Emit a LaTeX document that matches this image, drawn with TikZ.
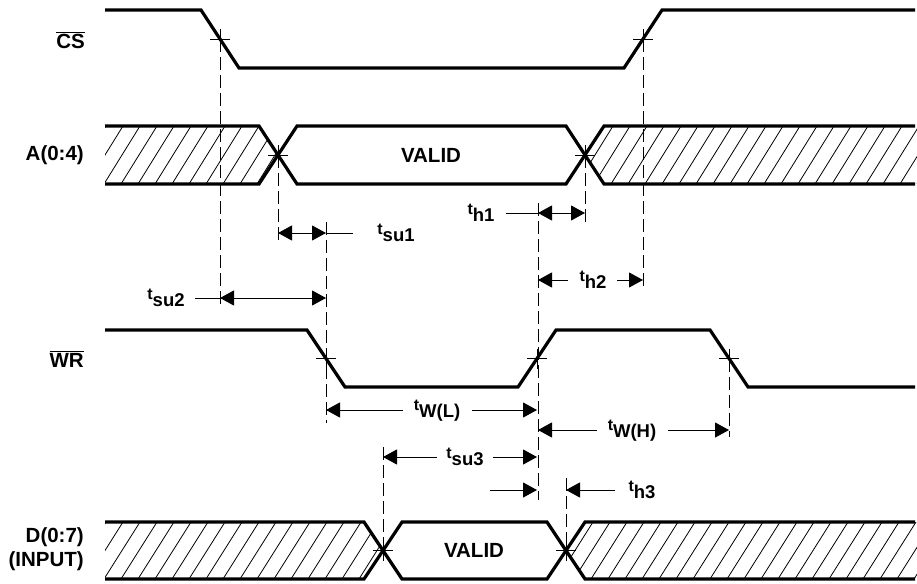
\documentclass[tikz,border=0pt]{standalone}
\usepackage{fontspec}
\setmainfont{Liberation Sans}
\usetikzlibrary{arrows.meta}
\newcommand\tlab[1]{{\fontsize{16}{15}\selectfont t}\raisebox{-7.5pt}{\fontsize{18.5}{18}\selectfont #1}}
\begin{document}
\begin{tikzpicture}[x=1pt,y=-1pt,
  sig/.style={line width=3.2pt, line join=miter},
  thinl/.style={line width=1pt},
  dashl/.style={line width=0.9pt, dash pattern=on 13pt off 5pt},
  hatchl/.style={line width=0.8pt},
  tick/.style={line width=0.9pt},
  dimr/.style={thinl, -{Triangle[length=14pt,width=15pt]}},
  diml/.style={thinl, {Triangle[length=14pt,width=15pt]}-},
  dimb/.style={thinl, {Triangle[length=14pt,width=15pt]}-{Triangle[length=14pt,width=15pt]}},
  lab/.style={font=\fontsize{20.5}{22}\selectfont\bfseries, inner sep=0pt},
  tl/.style={font=\bfseries, inner sep=0pt, anchor=base},
]
\useasboundingbox (0,0) rectangle (917,583);

% ---------- signal labels ----------
\node[lab, anchor=east] (lcs) at (85,40) {$\overline{\hbox{\fontsize{20.5}{22}\selectfont\bfseries CS}}$};
\node[lab, anchor=east] (la) at (84,155) {A(0:4)};
\node[lab, anchor=east] (lwr) at (84,359) {$\overline{\hbox{\fontsize{20.5}{22}\selectfont\bfseries WR}}$};
\node[lab, anchor=east] (ld) at (84,537) {D(0:7)};
\node[lab, anchor=east] (ldi) at (84,561) {(INPUT)};

% ---------- hatching ----------
\begin{scope}
  \clip (105,126) -- (259,126) -- (278,155) -- (259,184) -- (105,184) -- cycle;
  \foreach \i in {0,...,12} \draw[hatchl] ({70+\i*17},184) -- ++(36,-58);
\end{scope}
\begin{scope}
  \clip (917,126) -- (604,126) -- (585,155) -- (604,184) -- (917,184) -- cycle;
  \foreach \i in {0,...,22} \draw[hatchl] ({560+\i*17},184) -- ++(36,-58);
\end{scope}
\begin{scope}
  \clip (105,522) -- (364,522) -- (383,550.5) -- (364,579) -- (105,579) -- cycle;
  \foreach \i in {0,...,18} \draw[hatchl] ({70+\i*17},579) -- ++(36,-57);
\end{scope}
\begin{scope}
  \clip (917,522) -- (585,522) -- (566,550.5) -- (585,579) -- (917,579) -- cycle;
  \foreach \i in {0,...,23} \draw[hatchl] ({540+\i*17},579) -- ++(36,-57);
\end{scope}

% ---------- signals ----------
\draw[sig] (105,10) -- (201,10) -- (239,68) -- (624,68) -- (662,10) -- (915,10);
\draw[sig] (105,126) -- (259,126) -- (297,184) -- (566,184) -- (604,126) -- (915,126);
\draw[sig] (105,184) -- (259,184) -- (297,126) -- (566,126) -- (604,184) -- (915,184);
\draw[sig] (105,330) -- (307,330) -- (345,387) -- (518,387) -- (556,330) -- (710,330) -- (748,387) -- (915,387);
\draw[sig] (105,522) -- (364,522) -- (402,579) -- (547,579) -- (585,522) -- (915,522);
\draw[sig] (105,579) -- (364,579) -- (402,522) -- (547,522) -- (585,579) -- (915,579);

\node[lab] (va) at (431,155) {VALID};
\node[lab] (vd) at (474,550) {VALID};

% ---------- reference points ----------
\coordinate (csF) at (220,39);
\coordinate (csR) at (643,39);
\coordinate (aX1) at (278,155);
\coordinate (aX2) at (585,155);
\coordinate (wr1) at (326,358.5);
\coordinate (wr2) at (537,358.5);
\coordinate (wr3) at (729,358.5);
\coordinate (dX1) at (383,550.5);
\coordinate (dX2) at (566,550.5);

\foreach \p in {csF,csR,aX1,aX2,wr1,wr2,wr3,dX1,dX2}
  \draw[tick] ([xshift=-10pt]\p) -- ([xshift=10pt]\p) ([yshift=-10pt]\p) -- ([yshift=10pt]\p);

% ---------- dashed extension lines ----------
\coordinate (e1) at (220,307);
\coordinate (e2) at (643,290);
\coordinate (e3) at (278,241);
\coordinate (e4a) at (326,222);
\coordinate (e4b) at (326,423);
\coordinate (e5) at (585,224);
\coordinate (e6a) at (538,203);
\coordinate (e6b) at (538,500);
\coordinate (e7) at (729,437);
\coordinate (e8) at (383,447);
\coordinate (e9) at (566,478);
\draw[dashl] (csF) -- (e1);
\draw[dashl] (csR) -- (e2);
\draw[dashl] (aX1) -- (e3);
\draw[dashl] (e4a) -- (e4b);
\draw[dashl] (aX2) -- (e5);
\draw[dashl] (e6a) -- (e6b);
\draw[dashl] (wr3) -- (e7);
\draw[dashl] (e8) -- (dX1);
\draw[dashl] (e9) -- (dX2);

% ---------- t_su1 ----------
\coordinate (s1a) at (278,233); \coordinate (s1b) at (326,233); \coordinate (s1c) at (353,233);
\draw[dimb] (s1a) -- (s1b);
\draw[thinl] (s1b) -- (s1c);
\node[tl] (tsu1) at (396,234) {\tlab{su1}};

% ---------- t_su2 ----------
\coordinate (s2a) at (195,298); \coordinate (s2b) at (220,298); \coordinate (s2c) at (326,298);
\draw[thinl] (s2a) -- (s2b);
\draw[dimb] (s2b) -- (s2c);
\node[tl] (tsu2) at (166,299) {\tlab{su2}};

% ---------- t_h1 ----------
\coordinate (h1a) at (506,213); \coordinate (h1b) at (538,213); \coordinate (h1c) at (585,213);
\draw[thinl] (h1a) -- (h1b);
\draw[dimb] (h1b) -- (h1c);
\node[tl] (th1) at (481,214) {\tlab{h1}};

% ---------- t_h2 ----------
\coordinate (h2a) at (538,280); \coordinate (h2b) at (568,280); \coordinate (h2c) at (617,280); \coordinate (h2d) at (643,280);
\draw[diml] (h2a) -- (h2b);
\draw[dimr] (h2c) -- (h2d);
\node[tl] (th2) at (593,281) {\tlab{h2}};

% ---------- t_w(L) ----------
\coordinate (wla) at (326,410); \coordinate (wlb) at (403,410); \coordinate (wlc) at (472,410); \coordinate (wld) at (537,410);
\draw[diml] (wla) -- (wlb);
\draw[dimr] (wlc) -- (wld);
\node[tl] (twl) at (437,410) {\tlab{W(L)}};

% ---------- t_w(H) ----------
\coordinate (wha) at (538,430); \coordinate (whb) at (597,430); \coordinate (whc) at (668,430); \coordinate (whd) at (729,430);
\draw[diml] (wha) -- (whb);
\draw[dimr] (whc) -- (whd);
\node[tl] (twh) at (632,430) {\tlab{W(H)}};

% ---------- t_su3 ----------
\coordinate (s3a) at (383,457); \coordinate (s3b) at (437,457); \coordinate (s3c) at (493,457); \coordinate (s3d) at (537,457);
\draw[diml] (s3a) -- (s3b);
\draw[dimr] (s3c) -- (s3d);
\node[tl] (tsu3) at (465,458) {\tlab{su3}};

% ---------- t_h3 ----------
\coordinate (h3a) at (490,490); \coordinate (h3b) at (537,490); \coordinate (h3c) at (566,490); \coordinate (h3d) at (615,490);
\draw[dimr] (h3a) -- (h3b);
\draw[diml] (h3c) -- (h3d);
\node[tl] (th3) at (642,491) {\tlab{h3}};
\end{tikzpicture}
\end{document}
